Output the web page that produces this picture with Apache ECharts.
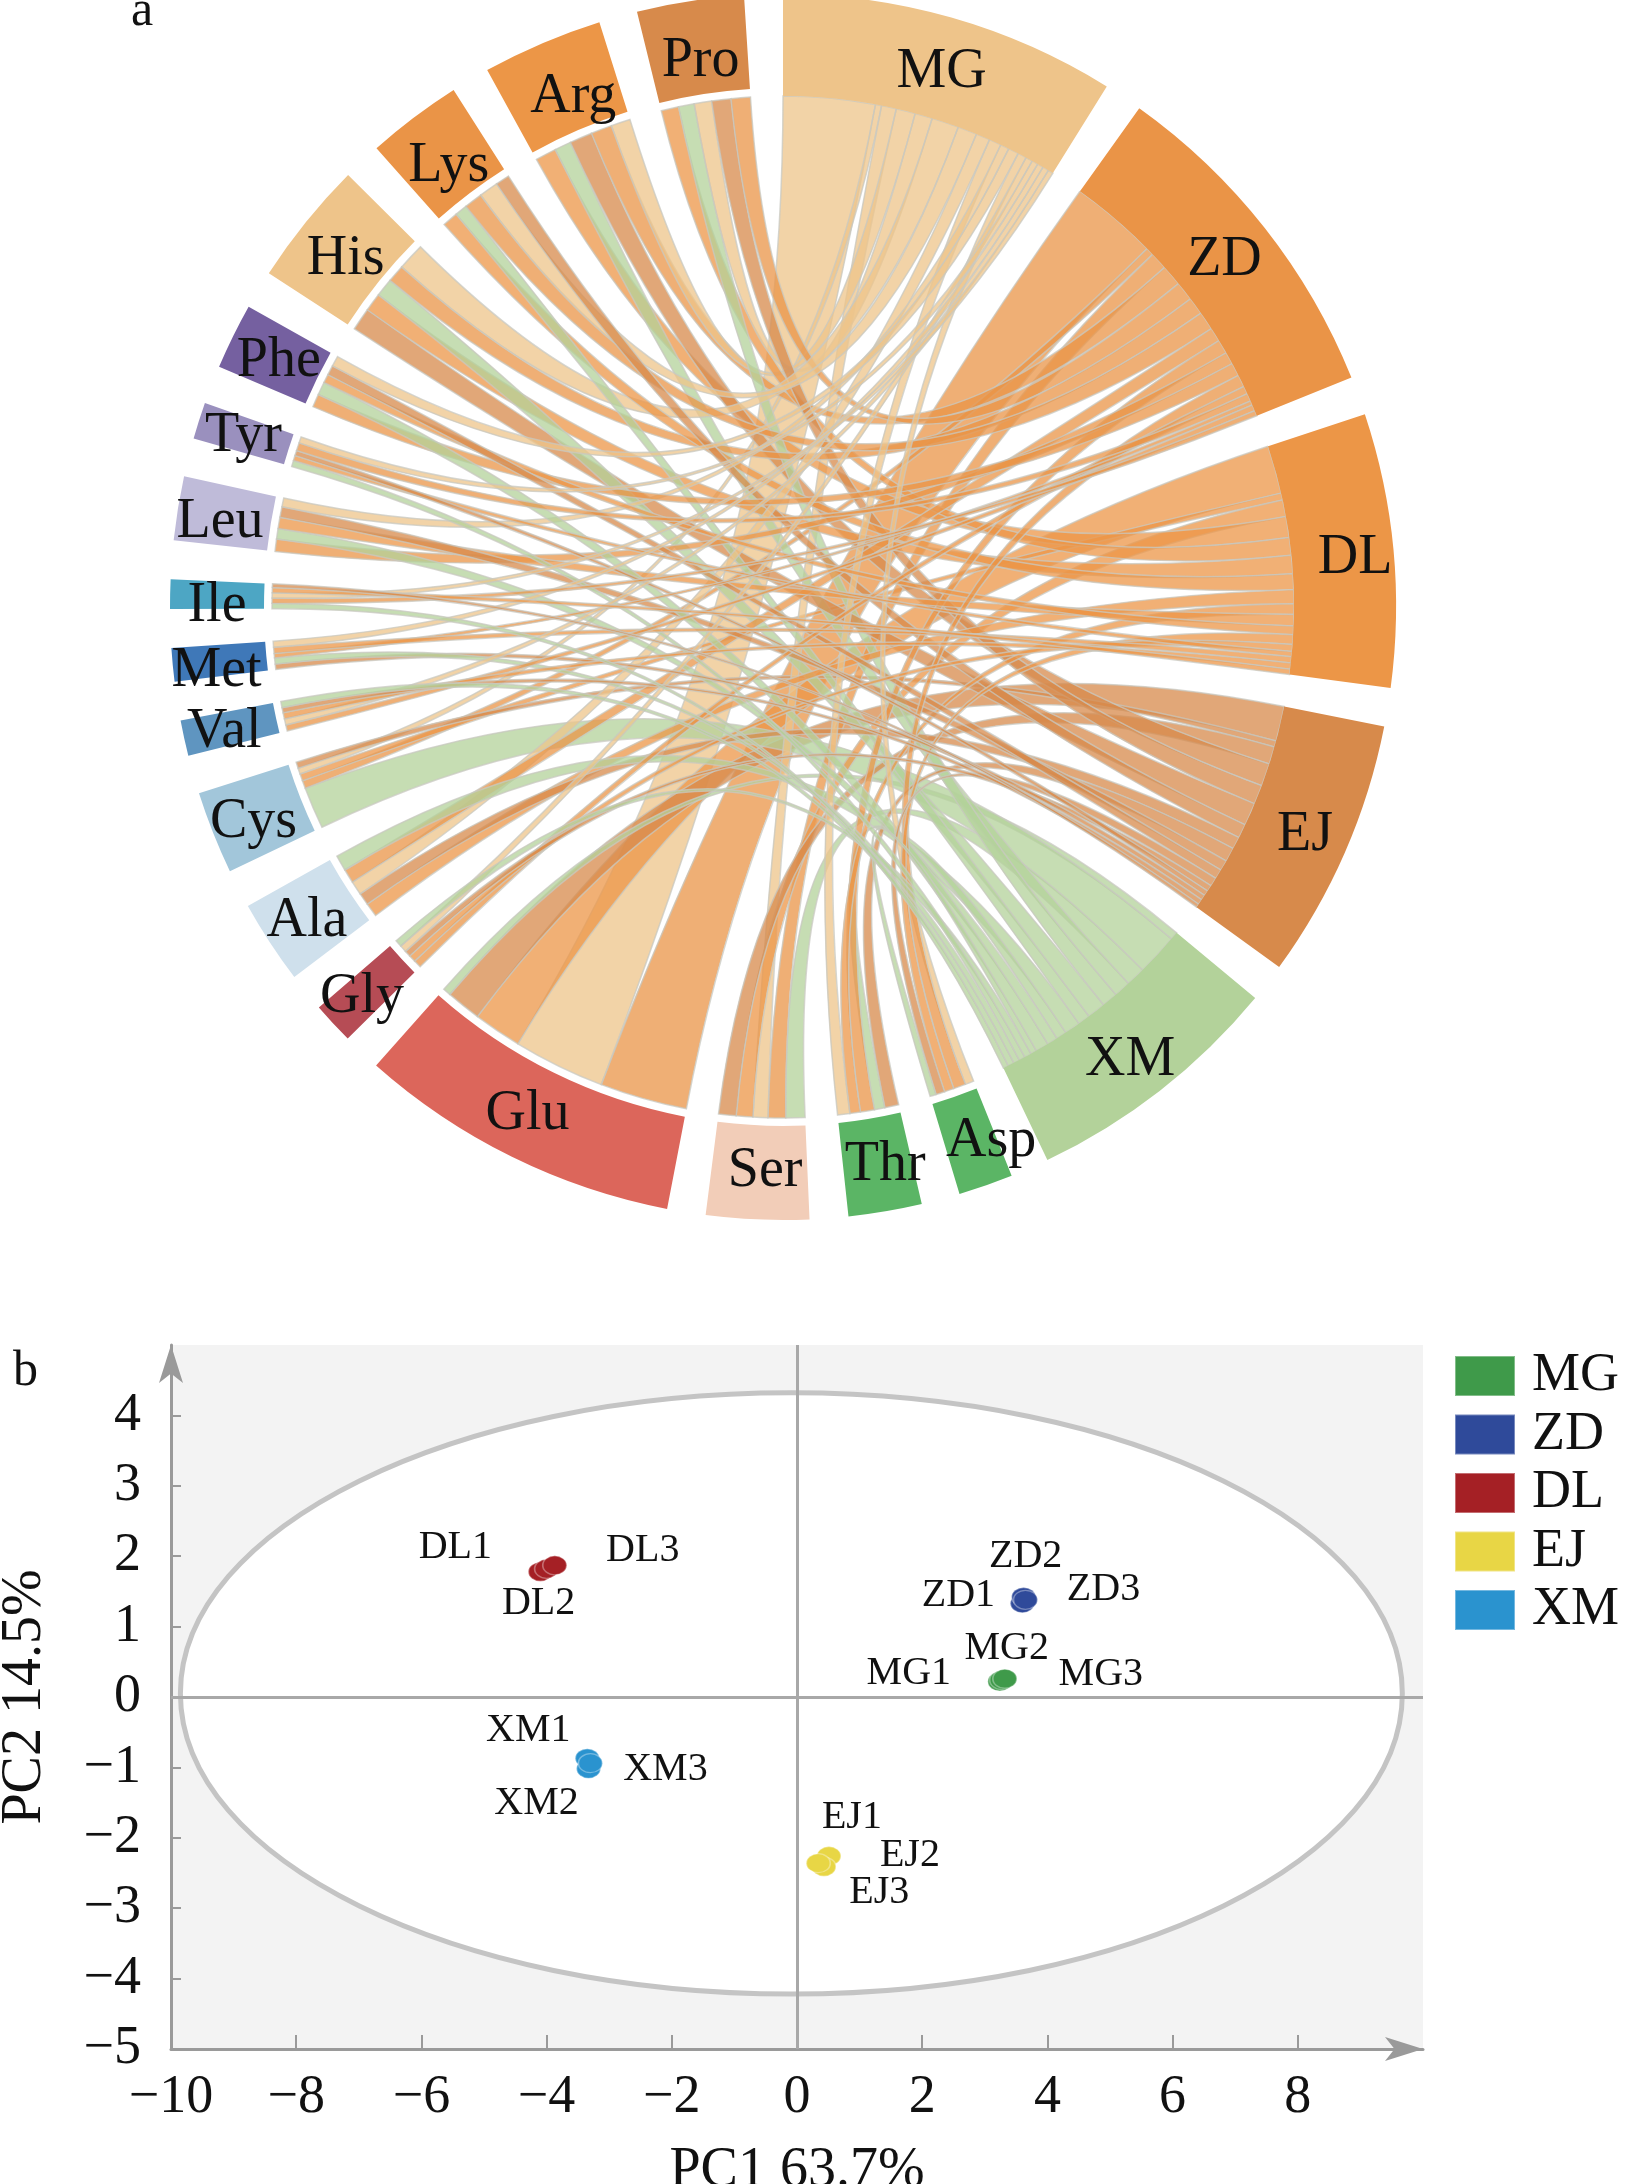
<!DOCTYPE html>
<html><head><meta charset="utf-8">
<style>html,body{margin:0;padding:0;background:#fff}#c{width:1627px;height:2184px}</style>
<script src="https://cdn.jsdelivr.net/npm/echarts@6/dist/echarts.min.js"></script>
</head><body><div id="c"></div>
<script>
// ---------- panel a: chord data ----------
const samples = ['MG','ZD','DL','EJ','XM'];
const aminoAcids = ['Asp','Thr','Ser','Glu','Gly','Ala','Cys','Val','Met','Ile','Leu','Tyr','Phe','His','Lys','Arg','Pro'];
const linkOrder = ['Glu','Cys','Ser','Arg','Pro','His','Lys','Ala','Thr','Leu','Phe','Asp','Gly','Tyr','Met','Val','Ile'];
const mgValues = [1.0,1.4,1.7,10.5,0.8,1.6,0.7,0.7,0.7,0.6,1.0,0.7,1.2,3.1,2.2,2.2,2.0];
const zdValues = [1.4,1.6,2.0,10.0,0.9,1.6,0.9,0.7,0.5,0.6,1.4,0.9,1.5,2.0,2.1,2.4,2.2];
const dlValues = [1.1,1.2,1.9,5.5,0.8,1.6,0.8,0.7,0.7,0.6,1.3,0.6,1.0,2.1,1.8,2.4,2.0];
const ejValues = [1.0,1.6,2.0,4.0,0.7,1.4,0.7,0.6,0.6,0.4,1.2,0.6,1.1,2.6,1.6,2.6,2.2];
const xmValues = [0.7,1.2,2.2,0.9,0.8,1.8,4.8,0.7,0.7,0.6,1.2,0.7,1.5,2.1,1.4,1.9,1.8];
const sampleValues = {MG:mgValues,ZD:zdValues,DL:dlValues,EJ:ejValues,XM:xmValues};
const nodeOrder = ['MG','ZD','DL','EJ','XM','Asp','Thr','Ser','Glu','Gly','Ala','Cys','Val','Met','Ile','Leu','Tyr','Phe','His','Lys','Arg','Pro'];
const nodeColors = ['#EEC48A','#EA9447','#EC9647','#D78A4B','#B3D29A','#5BB565','#5BB565','#F2CDB8','#DC665B','#B64C55','#CFE0EC','#A2C6DA','#5F95C0','#3F78B8','#4DA6C4','#BFBBD9','#9A90BE','#7560A0','#EEC48A','#EA9447','#EC9647','#D78A4B'];
const nodeLabelNudges = {MG:[3,4],ZD:[0,1],DL:[9,3],EJ:[5,2],XM:[1,7],Asp:[16,3],Thr:[6,3],Ser:[4,2],Glu:[-5,2],Gly:[-6,6],Ala:[-4,5],Cys:[-5,6],Val:[-7,4],Met:[-5,8],Ile:[-3,8],Leu:[-6,4],Tyr:[-3,0],Phe:[0,2],His:[0,4],Lys:[3,6],Arg:[8,5],Pro:[2,7]};
// clockwise order of the sample ribbons at each amino-acid arc
const ribbonOrder = {
  Asp:['MG','ZD','DL','EJ','XM'],Thr:['EJ','XM','ZD','DL','MG'],Ser:['XM','ZD','MG','DL','EJ'],
  Glu:['ZD','MG','DL','EJ','XM'],Gly:['ZD','DL','EJ','MG','XM'],Ala:['DL','EJ','MG','ZD','XM'],
  Cys:['XM','ZD','DL','MG','EJ'],Val:['ZD','MG','DL','EJ','XM'],Met:['EJ','XM','ZD','DL','MG'],
  Ile:['XM','ZD','MG','DL','EJ'],Leu:['ZD','XM','DL','EJ','MG'],Tyr:['XM','DL','EJ','ZD','MG'],
  Phe:['ZD','XM','DL','EJ','MG'],His:['EJ','DL','XM','ZD','MG'],Lys:['DL','XM','ZD','MG','EJ'],
  Arg:['DL','XM','EJ','ZD','MG'],Pro:['DL','XM','MG','EJ','ZD']};

// ---------- panel b: PCA scores ----------
const mgPoints = [['MG1',3.24,0.22],['MG2',3.27,0.24],['MG3',3.32,0.26]];
const zdPoints = [['ZD1',3.60,1.33],['ZD2',3.62,1.42],['ZD3',3.65,1.38]];
const dlPoints = [['DL1',-4.10,1.78],['DL2',-4.00,1.82],['DL3',-3.87,1.87]];
const ejPoints = [['EJ1',0.51,-2.26],['EJ2',0.43,-2.41],['EJ3',0.34,-2.36]];
const xmPoints = [['XM1',-3.35,-0.87],['XM2',-3.33,-1.02],['XM3',-3.30,-0.94]];
const xTicks = [-10,-8,-6,-4,-2,0,2,4,6,8];
const yTicks = [-5,-4,-3,-2,-1,0,1,2,3,4];
const ellipseFit = [-0.09,0.05,9.76,4.27]; // cx, cy, semi-axis x, semi-axis y
const legendNames = ['MG','ZD','DL','EJ','XM'];
const groupColors = {MG:'#3F9A4A',ZD:'#2F4A9A',DL:'#A52025',EJ:'#E8D645',XM:'#2A93CF'};
const labelOffsets = {
 DL1:[-85,-24],DL2:[-8,35],DL3:[88,-15],ZD1:[-64,-8],ZD2:[2,-41],ZD3:[78,-10],
 MG1:[-91,-8],MG2:[5,-32],MG3:[96,-4],XM1:[-59,-28],XM2:[-52,35],XM3:[75,6],
 EJ1:[23,-39],EJ2:[86,-11],EJ3:[61,29]};

const serif = '"Liberation Serif","Times New Roman",serif';
const links = [];
linkOrder.forEach(aa=>{
  const i = aminoAcids.indexOf(aa);
  ribbonOrder[aa].forEach(s=>{
    links.push({source:s,target:aa,value:sampleValues[s][i]});
  });
});

const pointSeries = (name,pts)=>({
  type:'scatter',name,xAxisIndex:0,yAxisIndex:0,z:5,
  symbol:'circle',symbolSize:[24,19],
  itemStyle:{color:groupColors[name],opacity:1,borderColor:'rgba(255,255,255,0.35)',borderWidth:1.5},
  data:pts.map(p=>({name:p[0],value:[p[1],p[2]],
    label:{show:true,position:'inside',formatter:p[0],offset:labelOffsets[p[0]],opacity:1,
           color:'#111',fontFamily:serif,fontSize:40}}))
});

const chart = echarts.init(document.getElementById('c'),null,{renderer:'canvas'});
chart.setOption({
  animation:false,
  backgroundColor:'#fff',
  title:[
    {text:'a',left:126,top:-18,textStyle:{fontFamily:serif,fontSize:50,fontWeight:'normal',color:'#111'}},
    {text:'b',left:8,top:1342,textStyle:{fontFamily:serif,fontSize:50,fontWeight:'normal',color:'#111'}}
  ],
  legend:{show:true,orient:'vertical',left:1454,top:1349,padding:0,itemWidth:60,itemHeight:40,itemGap:4.5,
    icon:'rect',selectedMode:false,data:legendNames,
    textStyle:{fontFamily:serif,fontSize:54,color:'#111',padding:[0,0,0,12]}},
  grid:{left:171,right:204,top:1345,bottom:135,outerBoundsMode:'none',show:true,backgroundColor:'#F3F3F3',borderWidth:0},
  xAxis:{type:'value',min:-10,max:10,interval:2,
    name:'PC1 63.7%',nameLocation:'middle',nameGap:94,
    nameTextStyle:{fontFamily:serif,fontSize:56,color:'#111'},
    axisLine:{onZero:false,lineStyle:{color:'#9a9a9a',width:3},symbol:['none','arrow'],symbolSize:[18,38]},
    axisTick:{show:true,inside:true,length:14,customValues:xTicks,lineStyle:{color:'#9a9a9a',width:2}},
    axisLabel:{customValues:xTicks,margin:22,fontFamily:serif,fontSize:54,color:'#111',
      formatter:v=>String(v).replace('-','\u2212')},
    splitLine:{show:false}},
  yAxis:{type:'value',min:-5,max:5,interval:1,
    name:'PC2 14.5%',nameLocation:'middle',nameGap:118,
    nameTextStyle:{fontFamily:serif,fontSize:56,color:'#111'},
    axisLine:{onZero:false,lineStyle:{color:'#9a9a9a',width:3},symbol:['none','arrow'],symbolSize:[18,38]},
    axisTick:{show:true,inside:true,length:10,customValues:yTicks,lineStyle:{color:'#9a9a9a',width:2}},
    axisLabel:{customValues:yTicks,margin:30,fontFamily:serif,fontSize:54,color:'#111',
      formatter:v=>String(v).replace('-','\u2212')},
    splitLine:{show:false}},
  series:[
    pointSeries('MG',mgPoints),pointSeries('ZD',zdPoints),pointSeries('DL',dlPoints),
    pointSeries('EJ',ejPoints),pointSeries('XM',xmPoints),
    {type:'custom',name:'ellipse',coordinateSystem:'cartesian2d',xAxisIndex:0,yAxisIndex:0,z:1,silent:true,
      data:[ellipseFit],encode:{x:0,y:1},clip:false,
      renderItem:(params,api)=>{
        const c = api.coord([api.value(0),api.value(1)]);
        const s = api.size([api.value(2),api.value(3)]);
        return {type:'ellipse',shape:{cx:c[0],cy:c[1],rx:s[0],ry:s[1]},
          style:{fill:'#fff',stroke:'#C4C4C4',lineWidth:5}};
      }},
    {type:'line',name:'crosshair',xAxisIndex:0,yAxisIndex:0,z:2,data:[],silent:true,symbol:'none',
      markLine:{silent:true,symbol:'none',label:{show:false},animation:false,
        lineStyle:{color:'#A8A8A8',width:3,type:'solid'},
        data:[{xAxis:0},{yAxis:0}]}},
    {type:'chord',name:'chord',clockwise:true,startAngle:90,padAngle:3.65,minAngle:0,
      center:[783,607],radius:[511,613],z:3,
      itemStyle:{borderWidth:0,borderRadius:0},
      label:{show:true,position:'inside',fontFamily:serif,fontSize:56,color:'#111'},
      lineStyle:{color:'source',opacity:0.75,width:0},
      data:nodeOrder.map((n,i)=>({name:n,itemStyle:{color:nodeColors[i],borderRadius:0}})),
      links}
  ]
});
// pale grey ribbon outlines, a small gap between amino-acid arcs and their ribbons, label nudges
function finishRing(){
  const zr = chart.getZr();
  zr.storage.getDisplayList(true).forEach(el=>{
    const sh = el.shape;
    if(!sh) return;
    if(sh.s1 !== undefined){
      el.style.stroke='#c8c8c0'; el.style.lineWidth=1.5; el.dirty();
    } else if(sh.r0 === 511 && sh.startAngle !== undefined){
      const mid = (sh.startAngle + sh.endAngle)/2;
      const cw = ((mid*180/Math.PI)+90+360)%360;
      if(cw > 156){ sh.r0 = 519; }
      const tc = el.getTextContent && el.getTextContent();
      if(tc && !el.__nudged){
        const d = nodeLabelNudges[tc.style.text];
        if(d){
          const ox = d[0]*1.39, oy = d[1]*1.39;
          if(el.textConfig && el.textConfig.position){
            el.textConfig.offset = [ox,oy];
          } else {
            tc.x += ox; tc.y += oy;
          }
          tc.dirty && tc.dirty();
          el.__nudged = true;
        }
      }
      el.dirty();
    }
  });
  zr.refreshImmediately();
}
finishRing();
chart.on('finished',finishRing);
</script></body></html>
